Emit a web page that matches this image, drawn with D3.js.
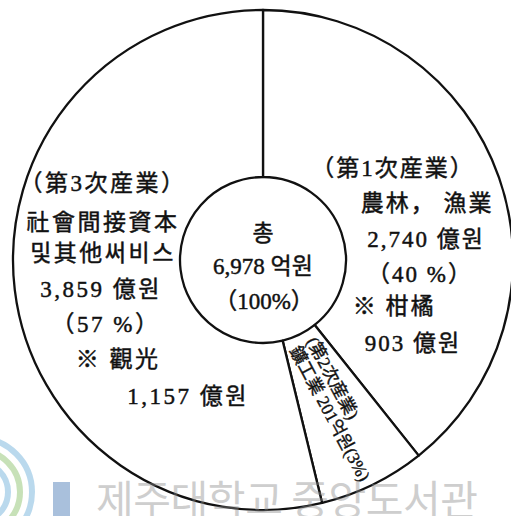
<!DOCTYPE html>
<html>
<head>
<meta charset="utf-8">
<script src="https://cdn.jsdelivr.net/npm/d3@7"></script>
<style>
  body { margin: 0; background: #fff; }
  svg { display: block; }
</style>
</head>
<body>
<svg id="chart"></svg>
<script>
// data
const categories = ['第1次産業', '第2次産業', '第3次産業'];
const values = [2740, 201, 3859];          // 億원
const shares = [39.3, 6.9, 53.8];          // drawn slice size, % of circle
const total = 6978;

// label lines
const centerLines = ['총', '6,978 억원', '（100%）'];
const firstLines = ['（第1次産業）', '農林， 漁業', '2,740 億원', '（40 %）', '※ 柑橘', '903 億원'];
const secondLines = ['(第2次産業)', '鑛工業 201억원(3%)'];
const thirdLines = ['（第3次産業）', '社會間接資本', '및其他써비스', '3,859 億원', '（57 %）', '※ 觀光', '1,157 億원'];
const watermark = '제주대학교 중앙도서관';

const width = 511, height = 516;
const cx = 263, cy = 260;
const rOuter = 250, rInner = 83;
const FONT = '"Liberation Serif", "Noto Sans CJK KR", serif';

const svg = d3.select('#chart')
  .attr('width', width)
  .attr('height', height);

// pie
const pie = d3.pie().sort(null).value(d => d);
const arcs = pie(shares);
const arc = d3.arc().innerRadius(rInner).outerRadius(rOuter);

const g = svg.append('g').attr('transform', 'translate(' + cx + ',' + cy + ')');

g.selectAll('path.slice')
  .data(arcs)
  .enter()
  .append('path')
    .attr('class', 'slice')
    .attr('d', arc)
    .attr('fill', '#fff')
    .attr('stroke', '#111')
    .attr('stroke-width', 2.3)
    .attr('stroke-linejoin', 'round');

// text helper
function lines(parent, rows, pos, size, spacing) {
  parent.selectAll(null)
    .data(rows)
    .enter()
    .append('text')
      .attr('x', (d, i) => pos[i][0])
      .attr('y', (d, i) => pos[i][1] + 9)
      .attr('text-anchor', 'middle')
      .style('font-family', FONT)
      .style('font-size', size + 'px')
      .style('letter-spacing', spacing + 'px')
      .attr('fill', '#111')
      .attr('stroke', '#111')
      .attr('stroke-width', 0.45)
      .text(d => d);
}

// centre
lines(svg, centerLines, [[263, 232], [263, 265], [264, 300]], 23, 0);

// 1st industry (right)
lines(svg, firstLines,
  [[393, 167], [427, 202], [426, 238], [420, 273], [394, 305], [413, 342]], 23, 2);

// 3rd industry (left)
lines(svg, thirdLines,
  [[103, 182], [103, 221], [103, 252], [101, 288], [106, 323], [118, 358], [188, 395]], 23, 2.5);

// 2nd industry, written along the thin slice
const a2 = arcs[1];
const mid = (a2.startAngle + a2.endAngle) / 2;
const r0 = rInner + 9;
const tg = g.append('g')
  .attr('transform', 'translate(' + (Math.sin(mid) * r0) + ',' + (-Math.cos(mid) * r0) + ') rotate(' + (mid * 180 / Math.PI - 92) + ')');
tg.selectAll('text')
  .data(secondLines)
  .enter()
  .append('text')
    .attr('x', 0)
    .attr('y', (d, i) => i === 0 ? -3 : 16)
    .style('font-family', FONT)
    .style('font-size', '17.5px')
    .attr('fill', '#111')
    .attr('stroke', '#111')
    .attr('stroke-width', 0.4)
    .text(d => d);

// watermark, translucent over the chart
const wm = svg.append('g').attr('class', 'watermark');
[30, 42, 54].forEach((r, i) => {
  wm.append('circle')
    .attr('cx', -22).attr('cy', 492).attr('r', r)
    .attr('fill', 'none')
    .attr('stroke', i === 1 ? '#b9d9a6' : '#a9cfe8')
    .attr('stroke-width', 6)
    .attr('opacity', 0.8);
});
wm.append('rect')
  .attr('x', 53).attr('y', 482).attr('width', 17).attr('height', 40)
  .attr('fill', '#a9c0dc');
wm.append('text')
  .attr('x', 96).attr('y', 515)
  .attr('textLength', 382).attr('lengthAdjust', 'spacing')
  .style('font-family', '"Noto Sans CJK KR", sans-serif')
  .style('font-size', '41px')
  .attr('fill', '#8c8c8c')
  .attr('opacity', 0.42)
  .text(watermark);
</script>
</body>
</html>
